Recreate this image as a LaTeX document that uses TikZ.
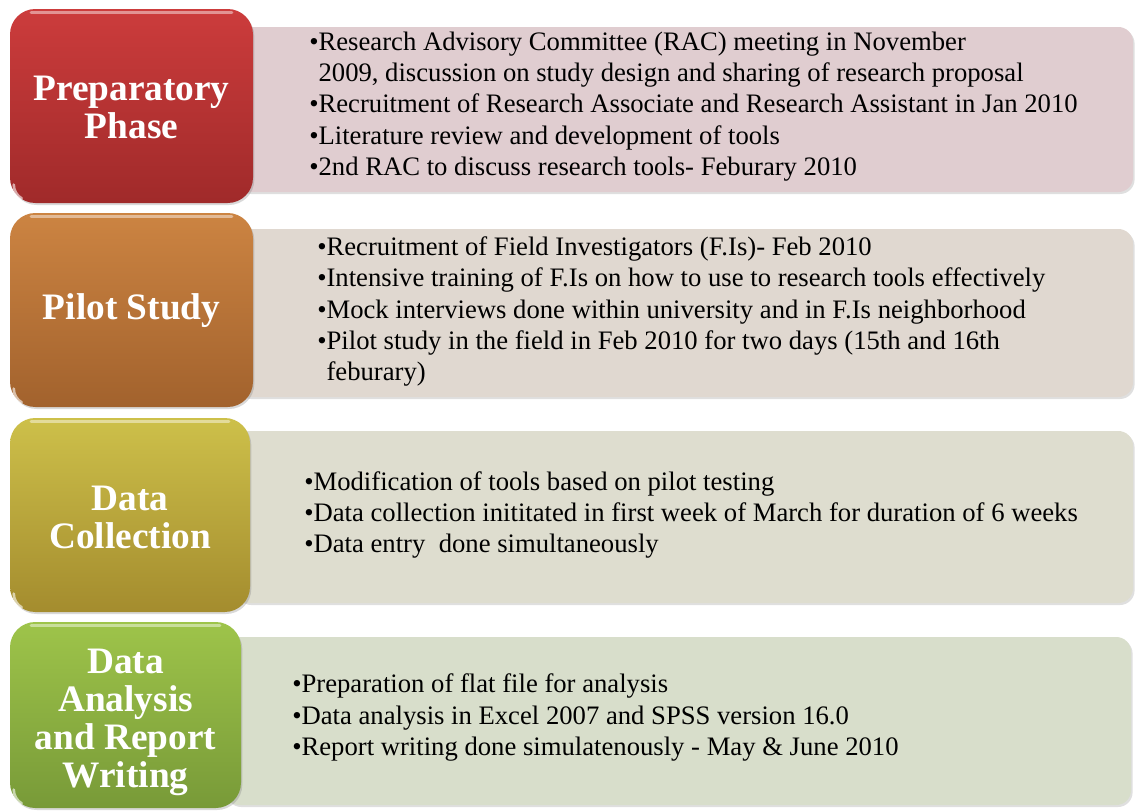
\documentclass[tikz,border=0pt]{standalone}
\usepackage{fontspec}
\setmainfont{Liberation Serif}
\usetikzlibrary{shadows}

\definecolor{prepTop}{RGB}{204,60,60}
\definecolor{prepBot}{RGB}{160,42,42}
\definecolor{pilotTop}{RGB}{204,132,66}
\definecolor{pilotBot}{RGB}{162,98,45}
\definecolor{collTop}{RGB}{205,192,74}
\definecolor{collBot}{RGB}{164,140,46}
\definecolor{anaTop}{RGB}{158,196,74}
\definecolor{anaBot}{RGB}{120,154,56}
\definecolor{prepPale}{RGB}{224,205,208}
\definecolor{pilotPale}{RGB}{224,216,208}
\definecolor{collPale}{RGB}{222,221,207}
\definecolor{anaPale}{RGB}{216,222,203}

\begin{document}
\begin{tikzpicture}[x=0.75pt,y=0.75pt,yscale=-1,xscale=1,
  phasebox/.style={rounded corners=19pt,draw=none,
    drop shadow={opacity=0.3,shadow xshift=1pt,shadow yshift=-1.5pt}},
  phasetitle/.style={text=white,align=center,
    font=\fontsize{28}{28.5}\selectfont\bfseries},
  notebox/.style={rounded corners=11pt,draw=none,
    drop shadow={opacity=0.25,shadow xshift=1.2pt,shadow yshift=-1.5pt}},
  notes/.style={anchor=west,align=left,inner sep=0pt,
    font=\fontsize{20}{23.4}\selectfont},
  gloss/.style={white,opacity=0.45,line width=2pt,line cap=round}]
\useasboundingbox (0,0) rectangle (1138,810);

%Pale boxes behind
\node[notebox,fill=prepPale,minimum width=673.5pt,minimum height=123.75pt] (prepnote) at (684,109.5) {};
\node[notebox,fill=pilotPale,minimum width=673.5pt,minimum height=126pt] (pilotnote) at (684,313) {};
\node[notebox,fill=collPale,minimum width=673.5pt,minimum height=129pt] (collnote) at (684,517) {};
\node[notebox,fill=anaPale,minimum width=679.5pt,minimum height=126pt] (ananote) at (678,721) {};

%Phase boxes
\node[phasebox,top color=prepTop,bottom color=prepBot,minimum width=182.25pt,minimum height=145.5pt] (prep) at (131.5,106) {};
\node[phasebox,top color=pilotTop,bottom color=pilotBot,minimum width=182.25pt,minimum height=145.5pt] (pilot) at (131.5,310) {};
\node[phasebox,top color=collTop,bottom color=collBot,minimum width=180pt,minimum height=145.5pt] (coll) at (130,515) {};
\node[phasebox,top color=anaTop,bottom color=anaBot,minimum width=173.25pt,minimum height=139.5pt] (ana) at (125.5,715) {};

%Gleam on top edge and lower left corner
\foreach \b in {prep,pilot,coll,ana}{
  \draw[gloss] ([xshift=16pt,yshift=3pt]\b.north west) -- ([xshift=-16pt,yshift=3pt]\b.north east);
  \draw[gloss,opacity=0.6] ([xshift=3pt,yshift=-14pt]\b.south west) arc[start angle=180,end angle=120,radius=12pt];
}

% Text Node
\node[phasetitle] (preptitle) at (131.5,107) {Preparatory\\Phase};
\node[phasetitle] (pilottitle) at (131.5,311) {Pilot Study};
\node[phasetitle] (colltitle) at (130,517) {Data\\Collection};
\node[phasetitle] (anatitle) at (125.5,722) {Data\\Analysis\\and Report\\Writing};

% Text Node
\node[notes] (preptext) at (309,106.5) {%
  •Research Advisory Committee (RAC) meeting in November\\
  \phantom{•}2009,\ discussion on study design and sharing of research proposal\\
  •Recruitment of Research Associate and Research Assistant in Jan 2010\\
  •Literature review and development of tools\\
  •2nd RAC to discuss research tools- Feburary 2010};
% Text Node
\node[notes] (pilottext) at (317,311.5) {%
  •Recruitment of Field Investigators (F.Is)- Feb 2010\\
  •Intensive training of F.Is on how to use to research tools effectively\\
  •Mock interviews done within university and in F.Is neighborhood\\
  •Pilot study in the field in Feb 2010 for two days (15th and 16th\\
  \phantom{•}feburary)};
% Text Node
\node[notes] (colltext) at (304,515) {%
  •Modification of tools based on pilot testing\\
  •Data collection inititated in first week\ of March for duration of 6 weeks\\
  •Data entry\ \ done simultaneously};
% Text Node
\node[notes] (anatext) at (292,717.5) {%
  •Preparation of flat file for analysis\\
  •Data analysis in Excel 2007 and SPSS version 16.0\\
  •Report writing done simulatenously - May \& June 2010};

\end{tikzpicture}
\end{document}
